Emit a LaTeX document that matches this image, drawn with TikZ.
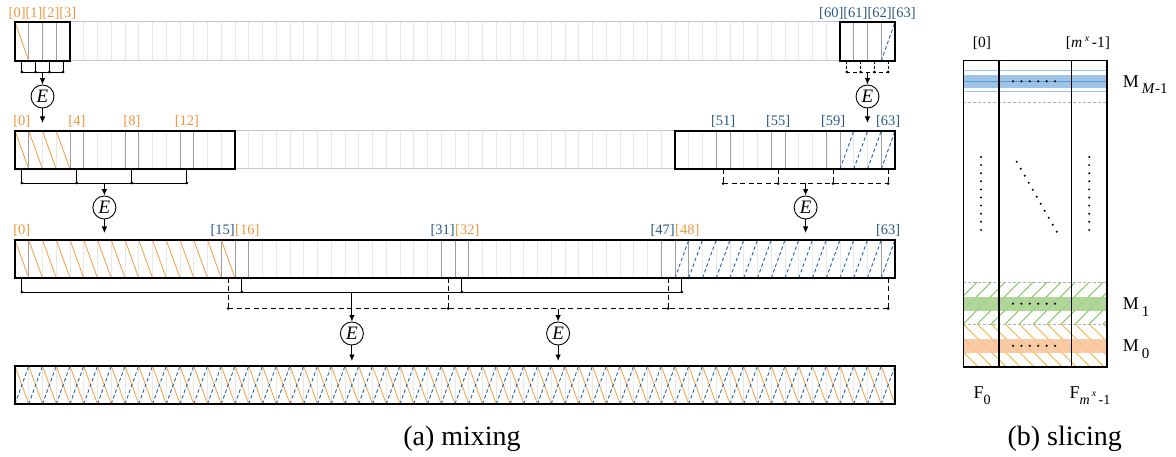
\documentclass[tikz,border=0pt]{standalone}
\usepackage{fontspec}
\setmainfont{Liberation Serif}
\usetikzlibrary{arrows.meta,calc}
\definecolor{lorange}{HTML}{F0963C}
\definecolor{lblue}{HTML}{2A5885}
\definecolor{horange}{HTML}{F5A550}
\definecolor{hblue}{HTML}{1F63A8}
\definecolor{bbandc}{HTML}{9DC3E6}
\definecolor{bcentc}{HTML}{5B9BD5}
\definecolor{gbandc}{HTML}{A9D18E}
\definecolor{ghatchc}{HTML}{7DBE5A}
\definecolor{obandc}{HTML}{F8C499}
\definecolor{yhatchc}{HTML}{F2B33D}
\begin{document}
\begin{tikzpicture}[x=1pt,y=-1pt,
  lightcell/.style={draw=black!9,line width=0.8},
  midcell/.style={draw=black!38,line width=0.9},
  lightframe/.style={draw=black!22,line width=1},
  grpframe/.style={draw=black,line width=1.3},
  ohatch/.style={draw=horange,line width=0.9},
  bhatch/.style={draw=hblue,line width=0.9,dash pattern=on 3.5pt off 2.5pt},
  conn/.style={draw=black,line width=0.9},
  dconn/.style={conn,dash pattern=on 5pt off 3.5pt},
  arr/.style={conn,-{Latex[length=6.5pt,width=5.5pt]}},
  ecirc/.style={circle,draw,line width=0.9,minimum size=23pt,inner sep=0pt,font=\fontsize{19}{19}\selectfont\itshape},
  lab/.style={inner sep=0pt,font=\fontsize{14.5}{16}\selectfont},
  olab/.style={lab,text=lorange},
  blab/.style={lab,text=lblue},
  captext/.style={inner sep=0pt,font=\fontsize{28}{30}\selectfont},
  plab/.style={inner sep=0pt,font=\fontsize{15.5}{17}\selectfont},
  mlab/.style={inner sep=0pt,anchor=base west,font=\fontsize{18}{20}\selectfont},
  gdash/.style={draw=black!30,line width=0.7,dash pattern=on 3pt off 2pt},
  colframe/.style={draw=black,line width=1.6},
]
\useasboundingbox (0,0) rectangle (1176,457);
\def\cw{13.75}

% ================= Row 1 =================
\foreach \i in {1,...,63} \draw[lightcell] ({15+\i*\cw},22) -- ({15+\i*\cw},61);
\draw[lightframe] (15,22) rectangle (895,61);
\foreach \i in {1,2,3,61,62,63} \draw[midcell] ({15+\i*\cw},22) -- ({15+\i*\cw},61);
\draw[ohatch] (15,22) -- ({15+\cw},61);
\draw[bhatch] ({15+63*\cw},61) -- (895,22);
\draw[grpframe] (15,22) rectangle (70,61);
\draw[grpframe] (840,22) rectangle (895,61);
\node[olab] (L1a) at (42.5,13.7) {[0][1][2][3]};
\node[blab] (L1b) at (867.5,13.7) {[60][61][62][63]};

% ================= Row 2 =================
\foreach \i in {1,...,63} \draw[lightcell] ({15+\i*\cw},131) -- ({15+\i*\cw},169);
\draw[lightframe] (15,131) rectangle (895,169);
\foreach \i in {1,4,5,8,9,12,13,51,52,55,56,59,60,63} \draw[midcell] ({15+\i*\cw},131) -- ({15+\i*\cw},169);
\foreach \i in {0,...,3} \draw[ohatch] ({15+\i*\cw},131) -- ({15+(\i+1)*\cw},169);
\foreach \i in {60,...,63} \draw[bhatch] ({15+\i*\cw},169) -- ({15+(\i+1)*\cw},131);
\draw[grpframe] (15,131) rectangle (235,169);
\draw[grpframe] (675,131) rectangle (895,169);
\foreach \i in {0,4,8,12} \node[olab] (L2o\i) at ({15+(\i+0.5)*\cw},121.5) {[\i]};
\foreach \i in {51,55,59,63} \node[blab] (L2b\i) at ({15+(\i+0.5)*\cw},121.5) {[\i]};

% ================= Row 3 =================
\foreach \i in {1,...,63} \draw[lightcell] ({15+\i*\cw},240) -- ({15+\i*\cw},278);
\foreach \i in {1,15,16,17,31,32,33,47,48,49,63} \draw[midcell] ({15+\i*\cw},240) -- ({15+\i*\cw},278);
\foreach \i in {0,...,15} \draw[ohatch] ({15+\i*\cw},240) -- ({15+(\i+1)*\cw},278);
\foreach \i in {48,...,63} \draw[bhatch] ({15+\i*\cw},278) -- ({15+(\i+1)*\cw},240);
\draw[grpframe] (15,240) rectangle (895,278);
\node[olab] (L3a) at ({15+0.5*\cw},230) {[0]};
\node[blab,anchor=east] (L3b) at (235,230) {[15]};
\node[olab,anchor=west] (L3c) at (235,230) {[16]};
\node[blab,anchor=east] (L3d) at (455,230) {[31]};
\node[olab,anchor=west] (L3e) at (455,230) {[32]};
\node[blab,anchor=east] (L3f) at (675,230) {[47]};
\node[olab,anchor=west] (L3g) at (675,230) {[48]};
\node[blab] (L3h) at ({15+63.5*\cw},230) {[63]};

% ================= Row 4 =================
\foreach \i in {1,...,63} \draw[lightcell] ({15+\i*\cw},366) -- ({15+\i*\cw},404);
\foreach \i in {0,...,63} {
  \draw[ohatch] ({15+\i*\cw},366) -- ({15+(\i+1)*\cw},404);
  \draw[bhatch] ({15+\i*\cw},404) -- ({15+(\i+1)*\cw},366);
}
\draw[grpframe] (15,366) rectangle (895,404);

% ================= Connectors row 1 =================
\foreach \k in {0,...,3} {
  \coordinate (p1a\k) at ({15+(\k+0.5)*\cw},61);
  \coordinate (q1a\k) at ({15+(\k+0.5)*\cw},72);
  \draw[conn] (p1a\k) -- (q1a\k);
  \fill (q1a\k) circle (1.6);
  \coordinate (p1b\k) at ({15+(60+\k+0.5)*\cw},61);
  \coordinate (q1b\k) at ({15+(60+\k+0.5)*\cw},72);
  \draw[conn,dash pattern=on 3pt off 2pt] (p1b\k) -- (q1b\k);
  \fill (q1b\k) circle (1.6);
}
\draw[conn] (q1a0) -- (q1a3);
\draw[conn,dash pattern=on 3.5pt off 3pt] (q1b0) -- (q1b3);
\node[ecirc] (E1) at (42.5,96.5) {E};
\node[ecirc] (E2) at (867.5,96.5) {E};
\coordinate (m1a) at (42.5,72);
\coordinate (m1b) at (867.5,72);
\coordinate (o1a) at (42.5,123);
\coordinate (o1b) at (867.5,123);
\draw[arr] (m1a) -- (E1);
\draw[arr] (E1) -- (o1a);
\draw[arr] (m1b) -- (E2);
\draw[arr] (E2) -- (o1b);

% ================= Connectors row 2 =================
\foreach \c in {0,4,8,12} {
  \coordinate (p2a\c) at ({15+(\c+0.5)*\cw},169);
  \coordinate (q2a\c) at ({15+(\c+0.5)*\cw},183);
  \draw[conn] (p2a\c) -- (q2a\c);
  \fill (q2a\c) circle (1.6);
}
\foreach \c in {51,55,59,63} {
  \coordinate (p2b\c) at ({15+(\c+0.5)*\cw},169);
  \coordinate (q2b\c) at ({15+(\c+0.5)*\cw},183.5);
  \draw[dconn] (p2b\c) -- (q2b\c);
  \fill (q2b\c) circle (1.6);
}
\draw[conn] (q2a0) -- (q2a12);
\draw[dconn] (q2b51) -- (q2b63);
\node[ecirc] (E3) at (104.4,207.5) {E};
\node[ecirc] (E4) at (805.6,207.5) {E};
\coordinate (m2a) at (104.4,183);
\coordinate (m2b) at (805.6,183.5);
\coordinate (o2a) at (104.4,233);
\coordinate (o2b) at (805.6,233);
\draw[arr] (m2a) -- (E3);
\draw[arr] (E3) -- (o2a);
\draw[arr] (m2b) -- (E4);
\draw[arr] (E4) -- (o2b);

% ================= Connectors row 3 =================
\foreach \c in {0,16,32,48} {
  \coordinate (p3a\c) at ({15+(\c+0.5)*\cw},278);
  \coordinate (q3a\c) at ({15+(\c+0.5)*\cw},292);
  \draw[conn] (p3a\c) -- (q3a\c);
  \fill (q3a\c) circle (1.6);
}
\foreach \c in {15,31,47,63} {
  \coordinate (p3b\c) at ({15+(\c+0.5)*\cw},278);
  \coordinate (q3b\c) at ({15+(\c+0.5)*\cw},308.5);
  \draw[dconn] (p3b\c) -- (q3b\c);
  \fill (q3b\c) circle (1.6);
}
\draw[conn] (q3a0) -- (q3a48);
\draw[dconn] (q3b15) -- (q3b63);
\node[ecirc] (E5) at (351.9,333.5) {E};
\node[ecirc] (E6) at (558.1,333.5) {E};
\coordinate (m3a) at (351.9,292);
\coordinate (m3b) at (558.1,308.5);
\coordinate (o3a) at (351.9,361);
\coordinate (o3b) at (558.1,361);
\draw[arr] (m3a) -- (E5);
\draw[arr] (E5) -- (o3a);
\draw[arr] (m3b) -- (E6);
\draw[arr] (E6) -- (o3b);

\node[captext] (capa) at (462,439) {(a) mixing};

% ================= Panel (b) =================
\def\xa{963.3}\def\xb{999}\def\xc{1071.3}\def\xd{1107}
\fill[bbandc] (\xa,75) rectangle (\xd,88.3);
\draw[bbandc,line width=1.6] (\xa,70.7) -- (\xd,70.7);
\draw[bbandc,line width=1.6] (\xa,91.7) -- (\xd,91.7);
\draw[bcentc,line width=1] (\xa,81.3) -- (\xd,81.3);
\draw[gdash] (\xa,102) -- (\xd,102);
\begin{scope}
  \clip (\xa,282) rectangle (\xd,324);
  \foreach \t in {-3,...,11} \draw[ghatchc,line width=0.8] ({\xa+\t*14},324) -- ({\xa+\t*14+42},282);
\end{scope}
\fill[gbandc,opacity=0.9] (\xa,296.7) rectangle (\xd,310.7);
\begin{scope}
  \clip (\xa,324) rectangle (\xd,366.7);
  \foreach \t in {-4,...,11} \draw[yhatchc,line width=0.8] ({\xa+\t*14},324) -- ({\xa+\t*14+42.7},366.7);
\end{scope}
\fill[obandc,opacity=0.9] (\xa,339) rectangle (\xd,352.7);
\draw[gdash] (\xa,282) -- (\xd,282);
\draw[gdash] (\xa,324) -- (\xd,324);
\foreach \j in {0,...,5} {
  \fill ({1013+\j*8.4},81.3) circle (1.2);
  \fill ({1013+\j*8.4},303.7) circle (1.2);
  \fill ({1013+\j*8.4},345.8) circle (1.2);
}
\foreach \j in {0,...,9} {
  \fill (981,{157+\j*8.1}) circle (1.1);
  \fill (1089.2,{157+\j*8.1}) circle (1.1);
}
\foreach \j in {0,...,10} \fill ({1016.7+\j*4},{161.7+\j*7}) circle (1.1);
\draw[colframe] (\xa,60.7) rectangle (\xd,366.7);
\draw[colframe] (\xb,60.7) -- (\xb,366.7);
\draw[colframe] (\xc,60.7) -- (\xc,366.7);

\node[plab] (b0) at (982,43) {[0]};
\node[plab] (bm) at (1088,43) {[\textit{m}\,\raisebox{6pt}{\fontsize{10}{10}\selectfont\textit{x}}\,-1]};
\node[mlab] (MM) at (1122.7,88) {M\,\raisebox{-6pt}{\fontsize{15}{15}\selectfont\textit{M}-1}};
\node[mlab] (M1) at (1122.7,309) {M\,\raisebox{-7pt}{\fontsize{15}{15}\selectfont 1}};
\node[mlab] (M0) at (1122.7,351.7) {M\,\raisebox{-7pt}{\fontsize{15}{15}\selectfont 0}};
\node[mlab] (F0) at (973.3,398.3) {F\raisebox{-6pt}{\fontsize{14}{14}\selectfont 0}};
\node[mlab] (Fm) at (1069.3,398.3) {F\raisebox{-6pt}{\fontsize{14}{14}\selectfont\textit{m}\,\raisebox{8pt}{\fontsize{10}{10}\selectfont\textit{x}}\,-1}};
\node[captext] (capb) at (1064.7,439) {(b) slicing};
\end{tikzpicture}
\end{document}
